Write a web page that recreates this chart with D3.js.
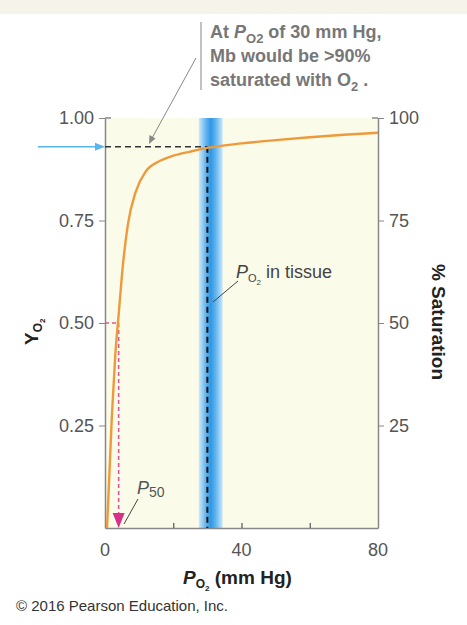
<!DOCTYPE html>
<html><head><meta charset="utf-8">
<script src="https://cdn.jsdelivr.net/npm/d3@7"></script>
<style>body{margin:0;background:#fff}text{font-family:"Liberation Sans",Arial,sans-serif}</style>
</head><body><svg id="c"></svg>
<script>
// values
const pO2 = [0.6, 2, 3, 4, 5, 6.7, 9, 12, 16, 20, 25, 30, 40, 50, 60, 70, 80];
const yO2 = [0, 0.27, 0.42, 0.52, 0.62, 0.74, 0.82, 0.87, 0.895, 0.908, 0.918, 0.927, 0.938, 0.946, 0.953, 0.959, 0.964];
const xTicks = [0, 40, 80];
const xMinor = [20, 40, 60];
const yTicks = [0.25, 0.5, 0.75, 1.0];
const satTicks = [25, 50, 75, 100];
const tissue = 30, tissueBand = [27.5, 34.5], p50 = 4, yAt30 = 0.93;

const W = 467, H = 625, M = {left: 105, right: 378, top: 118, bottom: 528};
const svg = d3.select("#c").attr("width", W).attr("height", H);
const x = d3.scaleLinear().domain([0, 80]).range([M.left, M.right]);
const y = d3.scaleLinear().domain([0, 1]).range([M.bottom, M.top]);
const ys = d3.scaleLinear().domain([0, 100]).range([M.bottom, M.top]);

svg.append("rect").attr("width", W).attr("height", 14).attr("fill", "#f6f3ea");
svg.append("rect").attr("x", M.left).attr("y", M.top).attr("width", M.right - M.left)
  .attr("height", M.bottom - M.top).attr("fill", "#fbfbea");

const defs = svg.append("defs");
const gr = defs.append("linearGradient").attr("id", "band");
[[0, "#cfe8f8"], [0.3, "#5fb4ee"], [0.5, "#2f97e6"], [0.7, "#5fb4ee"], [1, "#cfe8f8"]]
  .forEach(([o, c]) => gr.append("stop").attr("offset", o).attr("stop-color", c));
svg.append("rect").attr("x", x(tissueBand[0])).attr("y", M.top)
  .attr("width", x(tissueBand[1]) - x(tissueBand[0])).attr("height", M.bottom - M.top)
  .attr("fill", "url(#band)");

// axes
const grey = "#888", fs = 18;
svg.append("g").attr("transform", `translate(0,${M.bottom})`)
  .call(d3.axisBottom(x).tickValues(xMinor).tickSize(-5).tickFormat("").tickSizeOuter(0))
  .call(g => g.select(".domain").attr("stroke", grey).attr("stroke-width", 1.5))
  .call(g => g.selectAll("line").attr("stroke", "#555").attr("stroke-width", 1.2));
svg.append("g").attr("transform", `translate(${M.left},0)`)
  .call(d3.axisLeft(y).tickValues(yTicks).tickSize(6).tickFormat(d3.format(".2f")).tickSizeOuter(0))
  .call(g => g.select(".domain").attr("stroke", grey).attr("stroke-width", 1.5))
  .call(g => g.selectAll("line").attr("stroke", grey))
  .call(g => g.selectAll("text").attr("font-size", fs).attr("fill", "#555").attr("dx", -2));
svg.append("g").attr("transform", `translate(${M.right},0)`)
  .call(d3.axisRight(ys).tickValues(satTicks).tickSize(6).tickSizeOuter(0))
  .call(g => g.select(".domain").attr("stroke", grey).attr("stroke-width", 1.5))
  .call(g => g.selectAll("line").attr("stroke", grey))
  .call(g => g.selectAll("text").attr("font-size", fs).attr("fill", "#555").attr("dx", 2));
svg.selectAll(".xl").data(xTicks).join("text").attr("x", d => x(d)).attr("y", M.bottom + 28)
  .attr("text-anchor", "middle").attr("font-size", fs).attr("fill", "#555").text(d => d);
svg.append("line").attr("x1", M.left).attr("x2", M.left + 6).attr("y1", M.top).attr("y2", M.top).attr("stroke", grey).attr("stroke-width", 1.5);
svg.append("line").attr("x1", M.right - 6).attr("x2", M.right).attr("y1", M.top).attr("y2", M.top).attr("stroke", grey).attr("stroke-width", 1.5);

// dashed guides
svg.append("line").attr("x1", x(tissue)).attr("x2", x(tissue)).attr("y1", y(yAt30)).attr("y2", M.bottom)
  .attr("stroke", "#111").attr("stroke-width", 2).attr("stroke-dasharray", "6,4");
svg.append("line").attr("x1", M.left).attr("x2", x(tissue)).attr("y1", y(yAt30)).attr("y2", y(yAt30))
  .attr("stroke", "#333").attr("stroke-width", 1.6).attr("stroke-dasharray", "6,4");
svg.append("line").attr("x1", 38).attr("x2", M.left - 8).attr("y1", y(yAt30)).attr("y2", y(yAt30))
  .attr("stroke", "#5ab4ee").attr("stroke-width", 1.6);
svg.append("path").attr("d", `M${M.left},${y(yAt30)}l-10,-4v8z`).attr("fill", "#5ab4ee");
svg.append("line").attr("x1", M.left).attr("x2", x(p50)).attr("y1", y(0.5)).attr("y2", y(0.5))
  .attr("stroke", "#e0559b").attr("stroke-width", 1.6).attr("stroke-dasharray", "4,3");
svg.append("line").attr("x1", x(p50)).attr("x2", x(p50)).attr("y1", y(0.5)).attr("y2", M.bottom - 14)
  .attr("stroke", "#e0559b").attr("stroke-width", 1.6).attr("stroke-dasharray", "4,3");
svg.append("path").attr("d", `M${x(p50)},${M.bottom}l-6,-15h12z`).attr("fill", "#d6308a");

// curve
svg.append("path").datum(pO2.map((p, i) => [p, yO2[i]]))
  .attr("d", d3.line().x(d => x(d[0])).y(d => y(d[1])).curve(d3.curveMonotoneX))
  .attr("fill", "none").attr("stroke", "#ee9a3a").attr("stroke-width", 2.4);

// annotations
const ann = "#777", afs = 18;
svg.append("line").attr("x1", 201).attr("x2", 201).attr("y1", 22).attr("y2", 90).attr("stroke", "#999").attr("stroke-width", 1.2);
svg.append("line").attr("x1", 196).attr("x2", 151).attr("y1", 58).attr("y2", 140).attr("stroke", "#888").attr("stroke-width", 1);
svg.append("path").attr("d", "M149,144 l0.5,-9 l6,3.5z").attr("fill", "#888");
const t1 = svg.append("text").attr("x", 210).attr("y", 38).attr("font-size", afs).attr("font-weight", "bold").attr("fill", ann);
t1.append("tspan").text("At ");
t1.append("tspan").attr("font-style", "italic").text("P");
t1.append("tspan").attr("font-size", 13).attr("dy", 5).text("O2");
t1.append("tspan").attr("dy", -5).text(" of 30 mm Hg,");
svg.append("text").attr("x", 210).attr("y", 62).attr("font-size", afs).attr("font-weight", "bold").attr("fill", ann).text("Mb would be >90%");
const t3 = svg.append("text").attr("x", 210).attr("y", 86).attr("font-size", afs).attr("font-weight", "bold").attr("fill", ann);
t3.append("tspan").text("saturated with O");
t3.append("tspan").attr("font-size", 13).attr("dy", 5).text("2");
t3.append("tspan").attr("dy", -5).text(" .");

svg.append("line").attr("x1", 238).attr("x2", 213).attr("y1", 281).attr("y2", 302).attr("stroke", "#444").attr("stroke-width", 1);
const t4 = svg.append("text").attr("x", 236).attr("y", 278).attr("font-size", 18).attr("fill", "#444");
t4.append("tspan").attr("font-style", "italic").text("P");
t4.append("tspan").attr("font-size", 11).attr("dy", 4).text("O");
t4.append("tspan").attr("font-size", 8).attr("dy", 3).text("2");
t4.append("tspan").attr("dy", -7).text(" in tissue");

svg.append("line").attr("x1", 124).attr("x2", 138).attr("y1", 524).attr("y2", 499).attr("stroke", "#444").attr("stroke-width", 1);
const t5 = svg.append("text").attr("x", 137).attr("y", 494).attr("font-size", 18).attr("fill", "#555");
t5.append("tspan").attr("font-style", "italic").text("P");
t5.append("tspan").attr("font-size", 14).attr("dy", 3).text("50");

// axis titles
const t6 = svg.append("text").attr("x", 183).attr("y", 584).attr("font-size", 19).attr("font-weight", "bold").attr("fill", "#222");
t6.append("tspan").attr("font-style", "italic").text("P");
t6.append("tspan").attr("font-size", 12).attr("dy", 4).text("O");
t6.append("tspan").attr("font-size", 8).attr("dy", 3).text("2");
t6.append("tspan").attr("dy", -7).text(" (mm Hg)");
const t7 = svg.append("text").attr("transform", "translate(38,345) rotate(-90)").attr("font-size", 19).attr("font-weight", "bold").attr("fill", "#222");
t7.append("tspan").text("Y");
t7.append("tspan").attr("font-size", 12).attr("dy", 4).text("O");
t7.append("tspan").attr("font-size", 8).attr("dy", 3).text("2");
svg.append("text").attr("transform", "translate(432,322) rotate(90)").attr("text-anchor", "middle")
  .attr("font-size", 19).attr("font-weight", "bold").attr("fill", "#222").text("% Saturation");
svg.append("text").attr("x", 16).attr("y", 611).attr("font-size", 15).attr("fill", "#333").text("© 2016 Pearson Education, Inc.");
</script></body></html>
